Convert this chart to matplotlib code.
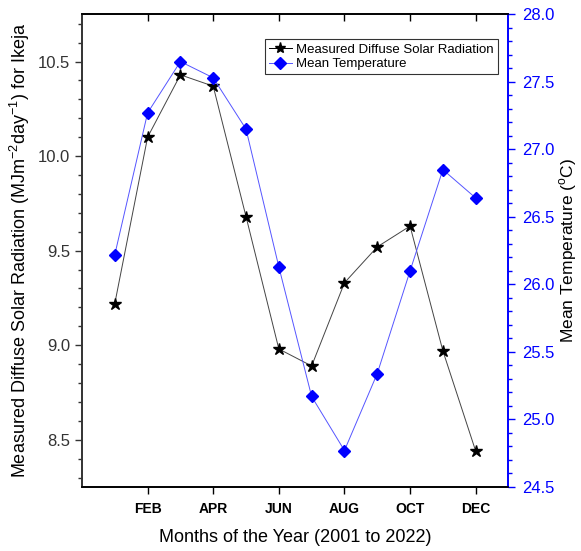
import matplotlib
matplotlib.use("Agg")
import matplotlib.pyplot as plt
from matplotlib.ticker import MultipleLocator, FixedLocator, FormatStrFormatter
from matplotlib.lines import Line2D

plt.rcParams["font.family"] = ["Liberation Sans", "DejaVu Sans"]

# monthly means for Ikeja, 2001-2022
months = [1, 2, 3, 4, 5, 6, 7, 8, 9, 10, 11, 12]
radiation = [9.22, 10.10, 10.43, 10.37, 9.68, 8.98, 8.89, 9.33, 9.52, 9.63, 8.97, 8.44]
temperature = [26.22, 27.27, 27.65, 27.53, 27.15, 26.13, 25.17, 24.77, 25.34, 26.10, 26.85, 26.64]
tick_months = [2, 4, 6, 8, 10, 12]
tick_labels = ["FEB", "APR", "JUN", "AUG", "OCT", "DEC"]

BLUE = "#0000ff"

fig = plt.figure(figsize=(5.81, 5.51), dpi=100)
ax = fig.add_axes([0.1411, 0.1162, 0.7341, 0.8578])
ax2 = ax.twinx()

ax.plot(months, radiation, color="#444444", lw=0.7, marker="*", ms=9,
        mfc="black", mec="black", zorder=3)
ax2.plot(months, temperature, color="#5555ff", lw=0.7, marker="D", ms=6.5,
         mfc=BLUE, mec=BLUE, zorder=3)

ax.set_xlim(0, 13)
ax.set_ylim(8.25, 10.75)
ax2.set_ylim(24.5, 28.0)

# x axis: bold month labels, outward ticks at bottom, inward at top
ax.xaxis.set_major_locator(FixedLocator(tick_months))
ax.set_xticklabels(tick_labels, fontweight="bold", fontsize=10)
ax.tick_params(axis="x", which="both", direction="out", length=5, width=1,
               top=False, pad=6)
ax2.xaxis.set_visible(True)
ax2.xaxis.set_major_locator(FixedLocator(tick_months))
ax2.tick_params(axis="x", which="both", bottom=False, labelbottom=False,
                top=True, labeltop=False, direction="in", length=5, width=1)

ax.yaxis.set_major_locator(MultipleLocator(0.5))
ax.yaxis.set_minor_locator(MultipleLocator(0.1))
ax.tick_params(axis="y", which="major", direction="out", length=5, width=1,
               labelsize=12, labelcolor="#333333", color="#333333")
ax.tick_params(axis="y", which="minor", direction="out", length=3, width=1,
               color="#333333")
ax.yaxis.set_major_formatter(FormatStrFormatter("%.1f"))

ax2.yaxis.set_major_locator(MultipleLocator(0.5))
ax2.yaxis.set_minor_locator(MultipleLocator(0.1))
ax2.tick_params(axis="y", which="major", direction="out", length=5, width=1,
                labelsize=12, labelcolor=BLUE, color=BLUE, pad=5)
ax2.tick_params(axis="y", which="minor", direction="out", length=3, width=1,
                color=BLUE)
ax2.yaxis.set_major_formatter(FormatStrFormatter("%.1f"))

for a in (ax, ax2):
    for s in a.spines.values():
        s.set_linewidth(1.2)
ax.spines["left"].set_color("#333333")
ax2.spines["left"].set_color("#333333")
ax2.spines["right"].set_color(BLUE)
ax.spines["right"].set_color(BLUE)

ax.set_xlabel("Months of the Year (2001 to 2022)", fontsize=13, labelpad=9)
ax.set_ylabel("Measured Diffuse Solar Radiation (MJm$^{\\mathregular{-2}}$"
              "day$^{\\mathregular{-1}}$) for Ikeja", fontsize=13, labelpad=4)
ax2.set_ylabel("Mean Temperature ($^{\\mathregular{o}}$C)", fontsize=12.5,
               labelpad=2)

handles = [
    Line2D([], [], color="black", lw=0.7, marker="*", ms=8, mfc="black", mec="black"),
    Line2D([], [], color="#5555ff", lw=0.7, marker="D", ms=6, mfc=BLUE, mec=BLUE),
]
leg = ax2.legend(handles, ["Measured Diffuse Solar Radiation", "Mean Temperature"],
                 loc="upper right", bbox_to_anchor=(0.975, 0.947), fontsize=9.5,
                 frameon=True, fancybox=False, borderpad=0.3, labelspacing=0.2,
                 handlelength=1.8, handletextpad=0.3, borderaxespad=0)
leg.get_frame().set_edgecolor("black")
leg.get_frame().set_linewidth(0.8)

fig.savefig("out.png", dpi=100)
